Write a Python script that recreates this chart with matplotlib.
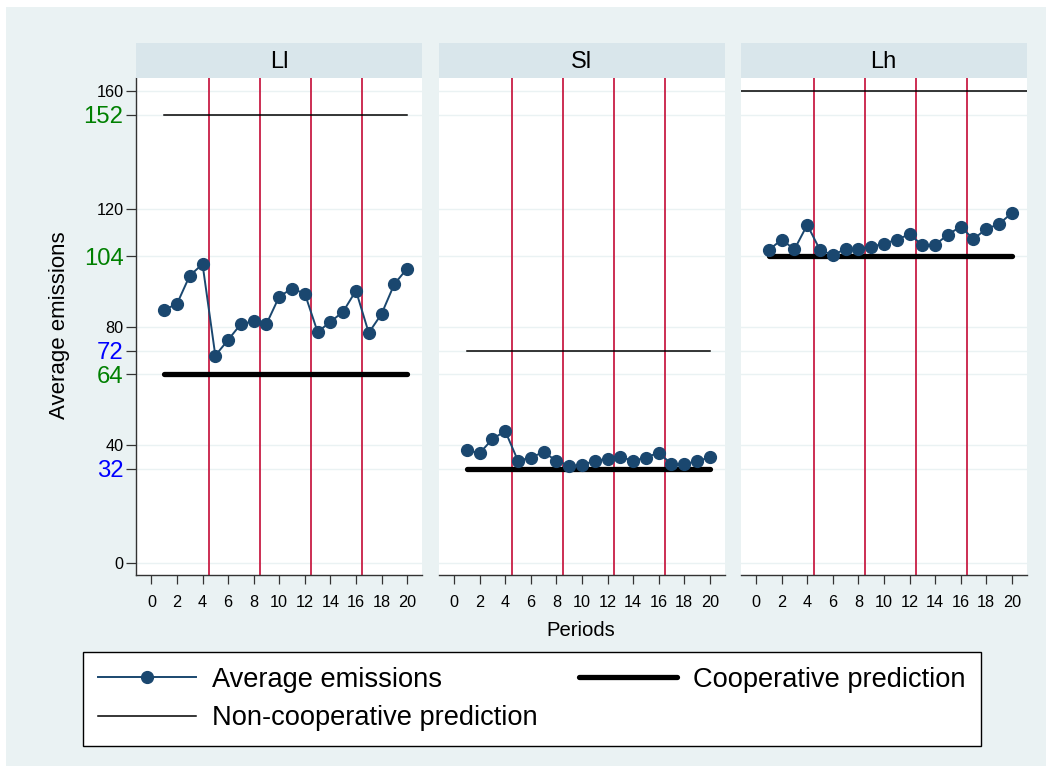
import matplotlib
matplotlib.use("Agg")
import matplotlib.pyplot as plt
from matplotlib.patches import Rectangle
from matplotlib.lines import Line2D
import numpy as np

plt.rcParams['font.family'] = ['Liberation Sans', 'DejaVu Sans']

# data
periods = list(range(1, 21))
panels = ['Ll', 'Sl', 'Lh']
avg_ll = [85.8, 87.8, 97.4, 101.3, 70.3, 75.6, 81.0, 81.9, 81.0, 90.3,
          93.0, 91.3, 78.3, 81.7, 85.2, 92.3, 78.0, 84.4, 94.5, 99.8]
avg_sl = [38.2, 37.2, 42.0, 44.7, 34.6, 35.7, 37.6, 34.6, 33.0, 33.1,
          34.7, 35.2, 36.0, 34.6, 35.7, 37.4, 33.5, 33.5, 34.5, 35.8]
avg_lh = [106.1, 109.6, 106.3, 114.6, 106.1, 104.4, 106.4, 106.5, 107.2, 108.2,
          109.6, 111.4, 107.8, 107.8, 111.3, 114.0, 109.8, 113.2, 114.9, 118.6]
coop = [64, 32, 104]
noncoop = [152, 72, 160]
breaks = [4.5, 8.5, 12.5, 16.5]

yticks = [0, 32, 40, 64, 72, 80, 104, 120, 152, 160]
ytick_colors = ['black', 'blue', 'black', 'green', 'blue', 'black', 'green', 'black', 'green', 'black']
ytick_big = [False, True, False, True, True, False, True, False, True, False]
xticks = list(range(0, 21, 2))

bg = '#eaf2f3'
strip_col = '#d9e6eb'
navy = '#1a476f'
red = '#c81e45'

W, H = 1050, 771
fig = plt.figure(figsize=(W / 100, H / 100), dpi=100)
fig.patch.set_facecolor('white')
fig.patches.append(Rectangle((6 / W, 1 - 766 / H), 1040 / W, 759 / H,
                             transform=fig.transFigure, facecolor=bg,
                             edgecolor='none', zorder=-10))

series = [avg_ll, avg_sl, avg_lh]
lefts = [136.3, 439, 741]
pw = 285.5
top, bottom = 77.7, 575
strip_top = 43.3

for i, name in enumerate(panels):
    ax = fig.add_axes([lefts[i] / W, 1 - bottom / H, pw / W, (bottom - top) / H])
    ax.set_facecolor('white')
    ax.set_xlim(-1.18, 21.15)
    ax.set_ylim(-4.1, 164.5)
    for y in yticks:
        ax.axhline(y, color=bg, lw=1.0, zorder=0)
    for b in breaks:
        ax.axvline(b, color=red, lw=1.3, zorder=1)
    ax.plot(periods, [coop[i]] * len(periods), color='black', lw=3.8,
            solid_capstyle='round', zorder=2)
    if i == 2:
        ax.axhline(noncoop[i], color='black', lw=1.1, zorder=2)
    else:
        ax.plot(periods, [noncoop[i]] * len(periods), color='black', lw=1.1, zorder=2)
    ax.plot(periods, series[i], color=navy, lw=1.4, marker='o', markersize=8.5, zorder=3)

    for s in ['top', 'right']:
        ax.spines[s].set_visible(False)
    ax.spines['bottom'].set_color('#333333')
    ax.spines['bottom'].set_linewidth(1.0)
    ax.set_xticks(xticks)
    ax.tick_params(axis='x', length=6.5, width=0.9, color='#333333', pad=8, labelsize=11.7)
    ax.set_yticks(yticks)
    if i == 0:
        ax.spines['left'].set_color('#333333')
        ax.spines['left'].set_linewidth(1.0)
        ax.tick_params(axis='y', length=7.2, width=0.9, color='#333333', pad=2)
        ax.set_yticklabels([str(v) for v in yticks])
        for lab, c, big in zip(ax.get_yticklabels(), ytick_colors, ytick_big):
            lab.set_color(c)
            lab.set_fontsize(17.2 if big else 11.7)
    else:
        ax.spines['left'].set_visible(False)
        ax.tick_params(axis='y', length=0, labelleft=False)

    sax = fig.add_axes([lefts[i] / W, 1 - top / H, pw / W, (top - strip_top) / H])
    sax.set_facecolor(strip_col)
    sax.set_xticks([])
    sax.set_yticks([])
    for s in sax.spines.values():
        s.set_visible(False)
    sax.text(0.5, 0.47, name, ha='center', va='center', fontsize=17, transform=sax.transAxes)

fig.text(60 / W, 1 - 325 / H, 'Average emissions', rotation=90, ha='center', va='center', fontsize=16)
fig.text(581 / W, 1 - 631 / H, 'Periods', ha='center', va='center', fontsize=14.6)

handles = [
    Line2D([], [], color=navy, lw=1.4, marker='o', markersize=8.5),
    Line2D([], [], color='black', lw=1.1),
    Line2D([], [], color='black', lw=3.8, solid_capstyle='round'),
]
labels = ['Average emissions', 'Non-cooperative prediction', 'Cooperative prediction']
leg = fig.legend(handles, labels, ncol=2, loc='upper left',
                 bbox_to_anchor=(83 / W, 1 - 652 / H), borderaxespad=0,
                 fontsize=19.6, handlelength=3.6, handletextpad=0.6,
                 columnspacing=1.5, labelspacing=0.45, borderpad=0.55,
                 fancybox=False, framealpha=1, facecolor='white', edgecolor='black')
leg.get_frame().set_linewidth(1.0)

fig.savefig('out.png', dpi=100)
